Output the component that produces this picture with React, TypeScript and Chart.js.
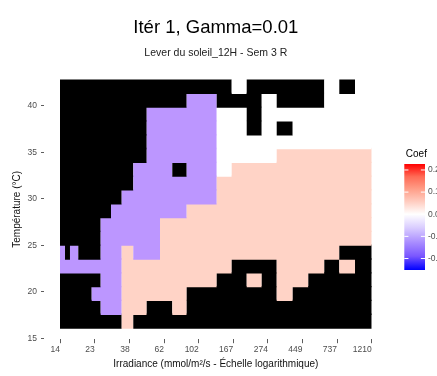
import React, { useEffect, useRef } from "react";
import { Chart, registerables } from "chart.js";

Chart.register(...registerables);

// ---- Data ----
const titleText = "Itér 1, Gamma=0.01";
const subtitleText = "Lever du soleil_12H - Sem 3 R";
const xTitle = "Irradiance (mmol/m²/s - Échelle logarithmique)";
const yTitle = "Température (°C)";

// irradiance bin edges (columns, left to right)
const irradianceEdges = [
  14, 15.04, 16.15, 18.19, 22.03, 25.05, 29.04, 33.84, 39.95, 48.41, 58.54, 69.8,
  85.77, 106.3, 131.8, 163.3, 202.4, 250.9, 310.9, 390.9, 488.6, 614.2, 761.2, 953.0, 1210,
];

// temperature bin centres (rows, top to bottom)
const temperatureRows = [
  42.11, 40.62, 39.14, 37.65, 36.17, 34.68, 33.19, 31.71, 30.22,
  28.73, 27.25, 25.76, 24.27, 22.79, 21.3, 19.82, 18.33, 16.84,
];

// cell classes: K = NA (black), P = negative coef, R = positive coef, W = ~0
const cellRows = [
  "KKKKKKKKKKKKKKKWKKKKKWKW",
  "KKKKKKKKKKKKPPKKKWKKKWWW",
  "KKKKKKKKKPPPPPWWKWWWWWWW",
  "KKKKKKKKKPPPPPWWKWKWWWWW",
  "KKKKKKKKKPPPPPWWWWWWWWWW",
  "KKKKKKKKKPPPPPWWWWRRRRRR",
  "KKKKKKKKPPPKPPWRRRRRRRRR",
  "KKKKKKKKPPPPPPRRRRRRRRRR",
  "KKKKKKKPPPPPPPRRRRRRRRRR",
  "KKKKKKPPPPPPRRRRRRRRRRRR",
  "KKKKKPPPPPRRRRRRRRRRRRRR",
  "KKKKKPPPPPRRRRRRRRRRRRRR",
  "PKPKKPPRPPRRRRRRRRRRRRKK",
  "PPPPPPPRRRRRRRRKKKRRRKRK",
  "KKKKKPPRRRRRRRKKRKRRKKKK",
  "KKKKPPPRRRRRKKKKKKRKKKKK",
  "KKKKKPPRRKKRKKKKKKKKKKKK",
  "KKKKKKKRKKKKKKKKKKKKKKKK",
];

const cellColors: Record<string, string> = {
  K: "#000000",
  P: "#BC96FF",
  R: "#FFD3C6",
  W: "#FFFFFF",
};

const xTickValues = [14, 23, 38, 62, 102, 167, 274, 449, 737, 1210];
const yTickValues = [15, 20, 25, 30, 35, 40];

const legendTitle = "Coef";
const legendMax = 0.227;
const legendMin = -0.252;
const legendTickValues = [0.2, 0.1, 0.0, -0.1, -0.2];
const legendTickLabels = ["0.2", "0.1", "0.0", "-0.1", "-0.2"];

const fontFamily = "'Liberation Sans', Arial, Helvetica, sans-serif";
const tickTextColor = "#4D4D4D";

function buildDatasets() {
  return cellRows.map((row, r) => {
    const runs: { s: number; e: number; code: string }[] = [];
    let start = 0;
    for (let c = 1; c <= row.length; c++) {
      if (c === row.length || row[c] !== row[start]) {
        runs.push({ s: start, e: c, code: row[start] });
        start = c;
      }
    }
    return {
      type: "bar" as const,
      data: runs.map((run) => ({
        y: temperatureRows[r],
        x: [irradianceEdges[run.s], irradianceEdges[run.e]],
      })),
      backgroundColor: runs.map((run) => cellColors[run.code]),
      borderWidth: 0,
      inflateAmount: 0,
      grouped: false,
      categoryPercentage: 1,
      barPercentage: 1.1,
    };
  });
}

const colorbarPlugin = {
  id: "colorbar",
  afterDraw(chart: any) {
    const ctx = chart.ctx as CanvasRenderingContext2D;
    const left = chart.chartArea.right + 32.6;
    const width = 20.7;
    const top = 164;
    const height = 106;
    const zeroFrac = legendMax / (legendMax - legendMin);

    ctx.save();
    ctx.fillStyle = "#000";
    ctx.font = `10px ${fontFamily}`;
    ctx.textAlign = "left";
    ctx.textBaseline = "alphabetic";
    ctx.fillText(legendTitle, left + 1.5, 156.5);

    const g = ctx.createLinearGradient(0, top, 0, top + height);
    const upper = ["#FF0000", "#FF6A55", "#FF9E88", "#FFCDC1", "#FFFFFF"];
    const lower = ["#FFFFFF", "#D8CBFF", "#AA8EFF", "#7A57FF", "#0000FF"];
    upper.forEach((c, i) => g.addColorStop((i / 4) * zeroFrac, c));
    lower.forEach((c, i) => g.addColorStop(zeroFrac + (i / 4) * (1 - zeroFrac), c));
    ctx.fillStyle = g;
    ctx.fillRect(left, top, width, height);

    ctx.strokeStyle = "#FFFFFF";
    ctx.lineWidth = 1;
    ctx.fillStyle = tickTextColor;
    ctx.font = `8.5px ${fontFamily}`;
    ctx.textBaseline = "middle";
    legendTickValues.forEach((v, i) => {
      const y = top + ((legendMax - v) / (legendMax - legendMin)) * height;
      ctx.beginPath();
      ctx.moveTo(left, y);
      ctx.lineTo(left + width / 5, y);
      ctx.moveTo(left + width - width / 5, y);
      ctx.lineTo(left + width, y);
      ctx.stroke();
      ctx.fillText(legendTickLabels[i], left + width + 3, y);
    });
    ctx.restore();
  },
};

export default function App() {
  const canvasRef = useRef<HTMLCanvasElement | null>(null);

  useEffect(() => {
    if (!canvasRef.current) return;
    const chart = new Chart(canvasRef.current, {
      type: "bar",
      data: { datasets: buildDatasets() as any },
      options: {
        indexAxis: "y",
        animation: false,
        responsive: false,
        devicePixelRatio: 1,
        layout: { padding: { left: 0, right: 65.3, top: 0, bottom: 0 } },
        plugins: {
          legend: { display: false },
          tooltip: { enabled: false },
          title: {
            display: true,
            text: titleText,
            fullSize: false,
            color: "#000",
            font: { family: fontFamily, size: 18.5, weight: "normal" },
            padding: { top: 17, bottom: 4 },
          },
          subtitle: {
            display: true,
            text: subtitleText,
            fullSize: false,
            color: "#222",
            font: { family: fontFamily, size: 10.5, weight: "normal" },
            padding: { top: 3.5, bottom: 20.2 },
          },
        },
        scales: {
          x: {
            type: "logarithmic",
            position: "bottom",
            min: 14,
            max: 1210,
            bounds: "data",
            offset: false,
            afterBuildTicks: (s: any) => {
              s.ticks = xTickValues.map((v) => ({ value: v }));
            },
            afterFit: (s: any) => {
              s.height = 36.8;
            },
            ticks: {
              autoSkip: false,
              maxRotation: 0,
              minRotation: 0,
              align: "end",
              padding: 1,
              color: tickTextColor,
              font: { family: fontFamily, size: 8.5 },
              callback: (v: any) => String(v),
            },
            grid: {
              display: true,
              offset: false,
              drawOnChartArea: false,
              drawTicks: true,
              tickLength: 4,
              tickColor: "#333333",
              tickWidth: 0.8,
            },
            border: { display: false },
            title: {
              display: true,
              text: xTitle,
              color: "#111",
              font: { family: fontFamily, size: 10 },
              padding: { top: 0, bottom: 6 },
            },
          },
          y: {
            type: "linear",
            position: "left",
            min: 14.9,
            max: 42.85,
            offset: false,
            afterBuildTicks: (s: any) => {
              s.ticks = yTickValues.map((v) => ({ value: v }));
            },
            afterFit: (s: any) => {
              s.width = 60;
            },
            ticks: {
              autoSkip: false,
              padding: 4,
              color: tickTextColor,
              font: { family: fontFamily, size: 8.5 },
              callback: (v: any) => String(v),
            },
            grid: {
              display: true,
              offset: false,
              drawOnChartArea: false,
              drawTicks: true,
              tickLength: 19,
              tickColor: "#333333",
              tickWidth: 0.8,
              tickBorderDash: [3, 40],
            },
            border: { display: false },
            title: {
              display: true,
              text: yTitle,
              color: "#111",
              font: { family: fontFamily, size: 10 },
              padding: { top: 11, bottom: 0 },
            },
          },
        },
      } as any,
      plugins: [colorbarPlugin],
    });
    return () => chart.destroy();
  }, []);

  return (
    <div style={{ position: "absolute", left: 0, top: 0, width: 437, height: 376, background: "#fff" }}>
      <canvas ref={canvasRef} width={437} height={376} style={{ width: 437, height: 376, display: "block" }} />
    </div>
  );
}
